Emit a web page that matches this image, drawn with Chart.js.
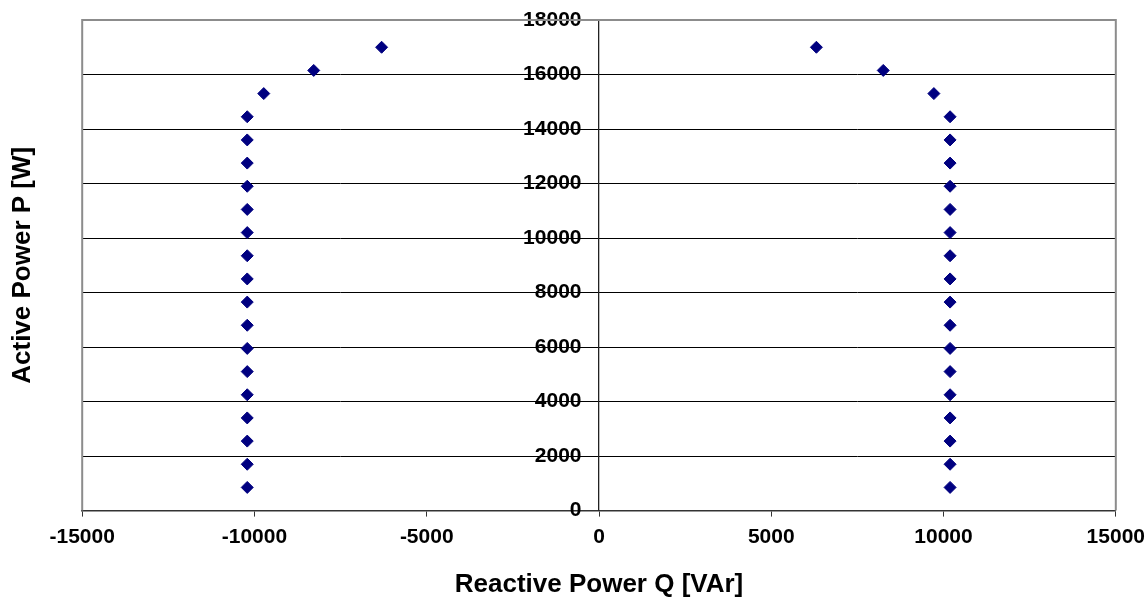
<!DOCTYPE html>
<html>
<head>
<meta charset="utf-8">
<script src="https://cdn.jsdelivr.net/npm/chart.js@4/dist/chart.umd.min.js"></script>
<style>
  html, body { margin: 0; padding: 0; background: #fff; }
  #wrap { width: 1148px; height: 598px; position: relative; }
</style>
</head>
<body>
<div id="wrap"><canvas id="pq"></canvas></div>
<script>
// active power steps (W)
const activePower = [850, 1700, 2550, 3400, 4250, 5100, 5950, 6800, 7650, 8500,
    9350, 10200, 11050, 11900, 12750, 13600, 14450, 15300, 16150, 17000];
// reactive power limits (VAr), inductive side and capacitive side
const qNegative = [-10210, -10210, -10210, -10210, -10210, -10210, -10210, -10210, -10210, -10210,
    -10210, -10210, -10210, -10210, -10210, -10210, -10210, -9730, -8280, -6310];
const qPositive = [10190, 10190, 10190, 10190, 10190, 10190, 10190, 10190, 10190, 10190,
    10190, 10190, 10190, 10190, 10190, 10190, 10190, 9720, 8250, 6310];

const xTicks = [-15000, -10000, -5000, 0, 5000, 10000, 15000];
const yTicks = [0, 2000, 4000, 6000, 8000, 10000, 12000, 14000, 16000, 18000];

const fontFam = "'Liberation Sans', Arial, sans-serif";
const markColor = '#000080';
const NB = '\u00a0';

const toPoints = (qs) => qs.map((q, i) => ({ x: q, y: activePower[i] }));

// grey frame around plot area (top, right, left)
const plotFrame = {
    id: 'plotFrame',
    afterDatasetsDraw(chart) {
        const { ctx, chartArea: a } = chart;
        ctx.save();
        ctx.strokeStyle = '#8c8c8c';
        ctx.lineWidth = 2;
        ctx.beginPath();
        ctx.moveTo(a.left, a.bottom);
        ctx.lineTo(a.left, a.top);
        ctx.lineTo(a.right, a.top);
        ctx.lineTo(a.right, a.bottom);
        ctx.stroke();
        ctx.restore();
    }
};

new Chart(document.getElementById('pq'), {
    type: 'scatter',
    data: {
        datasets: [
            {
                label: 'Q-',
                data: toPoints(qNegative),
                pointStyle: 'rectRot',
                pointRadius: 6,
                backgroundColor: markColor,
                borderColor: markColor
            },
            {
                label: 'Q+',
                data: toPoints(qPositive),
                pointStyle: 'rectRot',
                pointRadius: 6,
                backgroundColor: markColor,
                borderColor: markColor
            }
        ]
    },
    options: {
        responsive: true,
        maintainAspectRatio: false,
        animation: false,
        layout: { padding: { top: 20, right: 0, bottom: 0, left: 0 } },
        plugins: {
            legend: { display: false },
            tooltip: { enabled: false }
        },
        scales: {
            x: {
                type: 'linear',
                position: 'bottom',
                min: -15000,
                max: 15000,
                afterBuildTicks: (s) => { s.ticks = xTicks.map(v => ({ value: v })); },
                // let the last label run closer to the canvas edge
                afterFit: (s) => { s.paddingRight = Math.max(s.paddingRight - 5, 0); },
                grid: { drawOnChartArea: false, drawTicks: true, tickLength: 6, color: '#333' },
                border: { color: '#333', width: 1.5 },
                ticks: {
                    padding: 8,
                    color: '#000',
                    maxRotation: 0,
                    callback: (v) => String(v),
                    font: { family: fontFam, size: 21, weight: 'bold' }
                },
                title: {
                    display: true,
                    text: 'Reactive Power Q [VAr]',
                    color: '#000',
                    padding: { top: 11, bottom: -2 },
                    font: { family: fontFam, size: 26, weight: 'bold' }
                }
            },
            y: {
                type: 'linear',
                position: { x: 0 },
                min: 0,
                max: 18000,
                afterBuildTicks: (s) => { s.ticks = yTicks.map(v => ({ value: v })); },
                grid: { color: '#000', lineWidth: 1, tickLength: 7 },
                border: { color: '#222', width: 1.3 },
                ticks: {
                    color: '#000',
                    // keep labels clear of the centre axis
                    callback: (v) => String(v) + NB + NB + NB,
                    font: { family: fontFam, size: 21, weight: 'bold' }
                }
            },
            yTitle: {
                type: 'linear',
                position: 'left',
                min: 0,
                max: 1,
                grid: { display: false, drawTicks: false },
                border: { display: false },
                ticks: { display: false },
                title: {
                    display: true,
                    text: 'Active Power P [W]',
                    color: '#000',
                    padding: { top: 7, bottom: 44 },
                    font: { family: fontFam, size: 26, weight: 'bold' }
                }
            }
        }
    },
    plugins: [plotFrame]
});
</script>
</body>
</html>
